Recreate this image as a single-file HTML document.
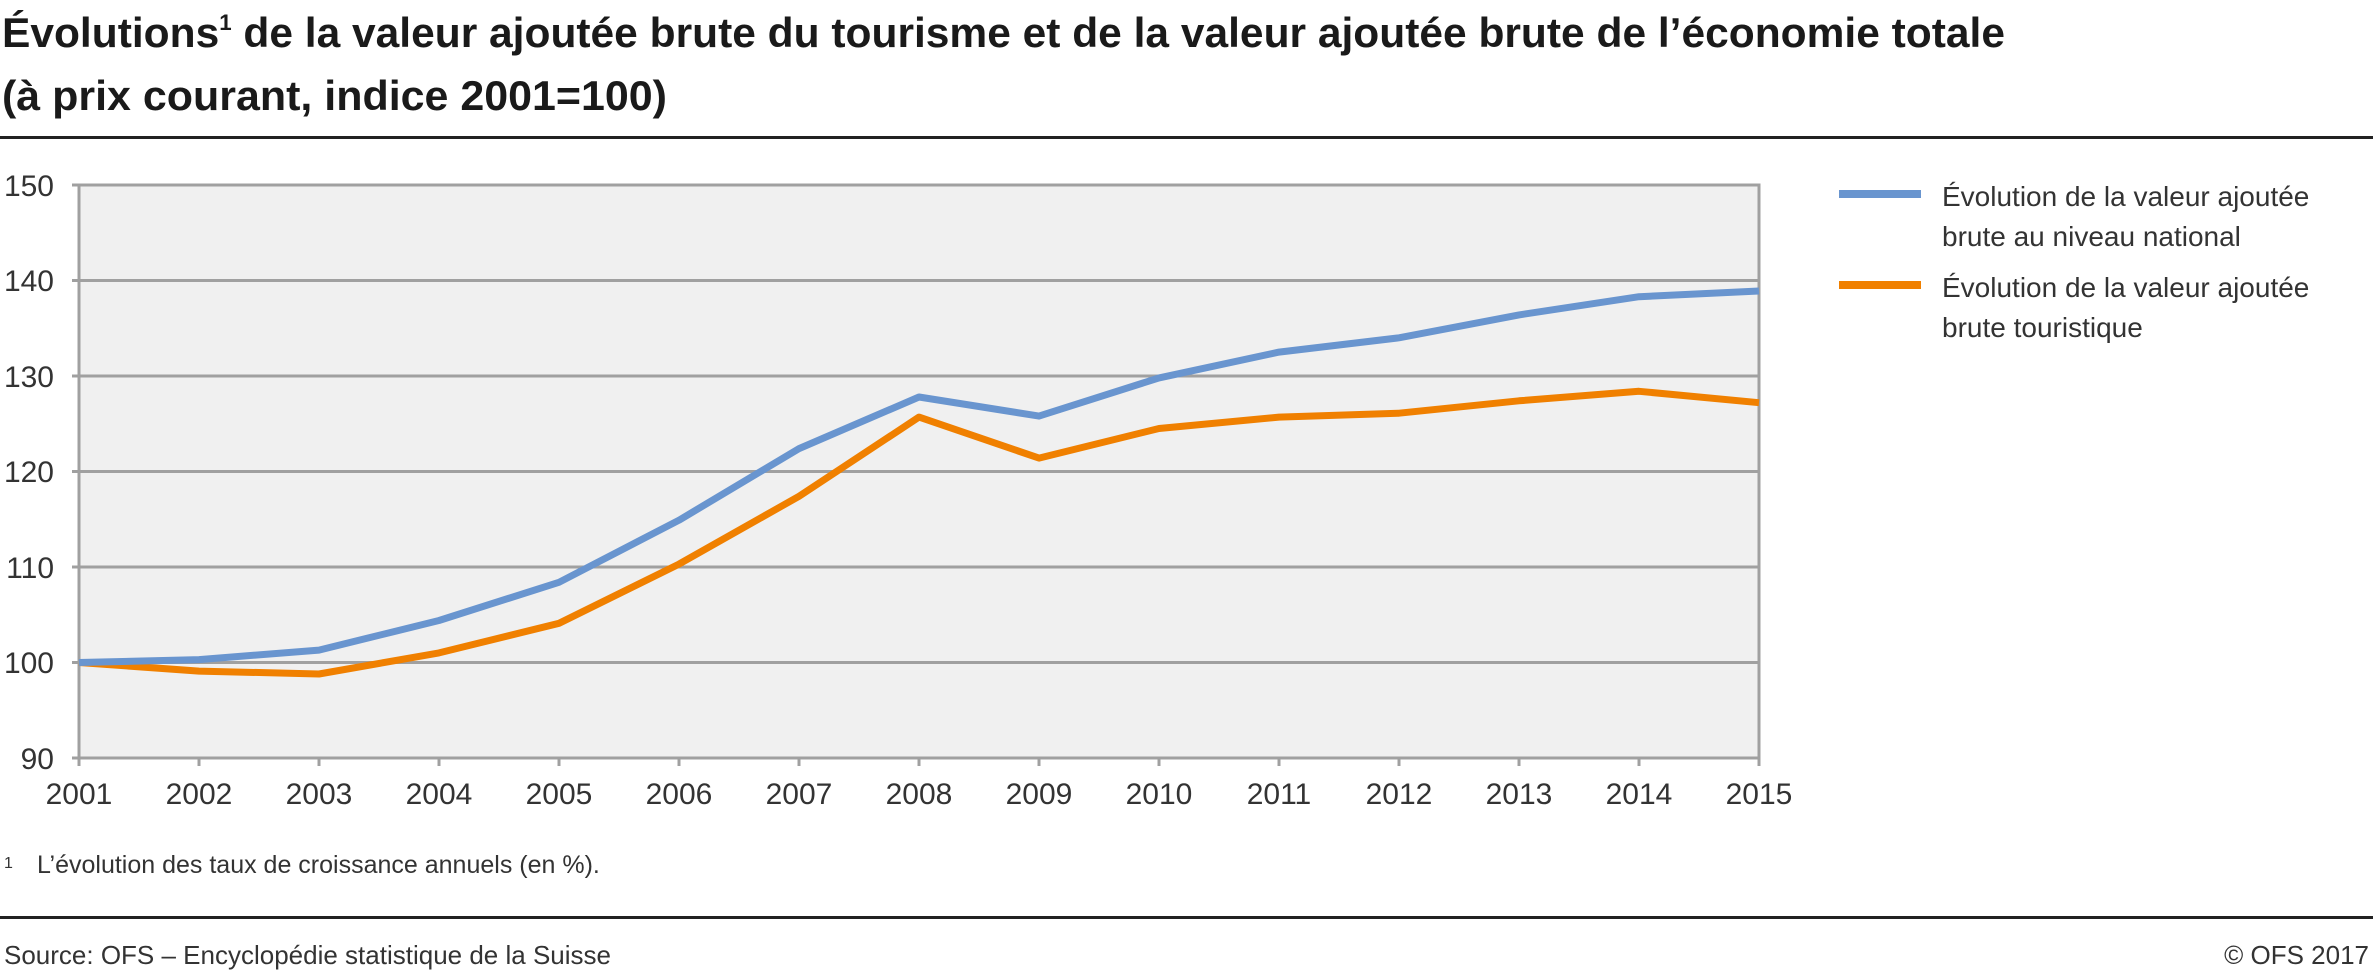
<!DOCTYPE html>
<html><head><meta charset="utf-8"><style>
html,body{margin:0;padding:0;background:#fff;}
svg{display:block;font-family:"Liberation Sans",sans-serif;}
</style></head><body>
<svg width="2373" height="971" viewBox="0 0 2373 971" xmlns="http://www.w3.org/2000/svg">
<text x="2" y="47" font-size="42" font-weight="bold" fill="#1a1a1a" textLength="2003" lengthAdjust="spacingAndGlyphs">Évolutions<tspan font-size="22" dy="-17">1</tspan><tspan dy="17"> de la valeur ajoutée brute du tourisme et de la valeur ajoutée brute de l’économie totale</tspan></text>
<text x="2" y="110" font-size="42" font-weight="bold" fill="#1a1a1a" textLength="665" lengthAdjust="spacingAndGlyphs">(à prix courant, indice 2001=100)</text>
<rect x="0" y="136" width="2373" height="3" fill="#222"/>
<rect x="79" y="185" width="1680" height="573" fill="#f0f0f0"/>
<g stroke="#a0a0a0" stroke-width="3" fill="none">
<line x1="79" y1="280.5" x2="1759" y2="280.5"/>
<line x1="79" y1="376" x2="1759" y2="376"/>
<line x1="79" y1="471.5" x2="1759" y2="471.5"/>
<line x1="79" y1="567" x2="1759" y2="567"/>
<line x1="79" y1="662.5" x2="1759" y2="662.5"/>
<rect x="79" y="185" width="1680" height="573"/>
<line x1="72" y1="185" x2="79" y2="185"/><line x1="72" y1="280.5" x2="79" y2="280.5"/><line x1="72" y1="376" x2="79" y2="376"/><line x1="72" y1="471.5" x2="79" y2="471.5"/><line x1="72" y1="567" x2="79" y2="567"/><line x1="72" y1="662.5" x2="79" y2="662.5"/><line x1="72" y1="758" x2="79" y2="758"/>
<path d="M79 758v8M199 758v8M319 758v8M439 758v8M559 758v8M679 758v8M799 758v8M919 758v8M1039 758v8M1159 758v8M1279 758v8M1399 758v8M1519 758v8M1639 758v8M1759 758v8"/>
</g>
<g font-size="30" fill="#333" text-anchor="end">
<text x="54" y="196">150</text><text x="54" y="291">140</text><text x="54" y="387">130</text><text x="54" y="482">120</text><text x="54" y="578">110</text><text x="54" y="673">100</text><text x="54" y="769">90</text>
</g>
<g font-size="30" fill="#333" text-anchor="middle">
<text x="79" y="804">2001</text><text x="199" y="804">2002</text><text x="319" y="804">2003</text><text x="439" y="804">2004</text><text x="559" y="804">2005</text><text x="679" y="804">2006</text><text x="799" y="804">2007</text><text x="919" y="804">2008</text><text x="1039" y="804">2009</text><text x="1159" y="804">2010</text><text x="1279" y="804">2011</text><text x="1399" y="804">2012</text><text x="1519" y="804">2013</text><text x="1639" y="804">2014</text><text x="1759" y="804">2015</text>
</g>
<polyline fill="none" stroke="#f08000" stroke-width="7" stroke-linejoin="round" points="79,662.5 199,671.1 319,674 439,652.9 559,623.3 679,564.1 799,496.3 919,417.1 1039,458.1 1159,428.5 1279,417.1 1399,413.2 1519,400.8 1639,391.3 1759,402.7"/>
<polyline fill="none" stroke="#6995cf" stroke-width="7" stroke-linejoin="round" points="79,662.5 199,659.6 319,650.1 439,620.5 559,582.3 679,520.2 799,448.6 919,397 1039,416.1 1159,377.9 1279,352.1 1399,337.8 1519,314.9 1639,296.7 1759,291"/>
<rect x="1839" y="190" width="82" height="8" fill="#6995cf"/>
<rect x="1839" y="281" width="82" height="8" fill="#f08000"/>
<g font-size="28" fill="#333">
<text x="1942" y="206">Évolution de la valeur ajoutée</text>
<text x="1942" y="246">brute au niveau national</text>
<text x="1942" y="297">Évolution de la valeur ajoutée</text>
<text x="1942" y="337">brute touristique</text>
</g>
<text x="4" y="868" font-size="16" fill="#333">1</text>
<text x="37" y="873" font-size="25" fill="#333">L’évolution des taux de croissance annuels (en %).</text>
<rect x="0" y="916" width="2373" height="3" fill="#222"/>
<text x="4" y="964" font-size="26" fill="#333">Source: OFS – Encyclopédie statistique de la Suisse</text>
<text x="2369" y="964" font-size="26" fill="#333" text-anchor="end">© OFS 2017</text>
</svg>
</body></html>
